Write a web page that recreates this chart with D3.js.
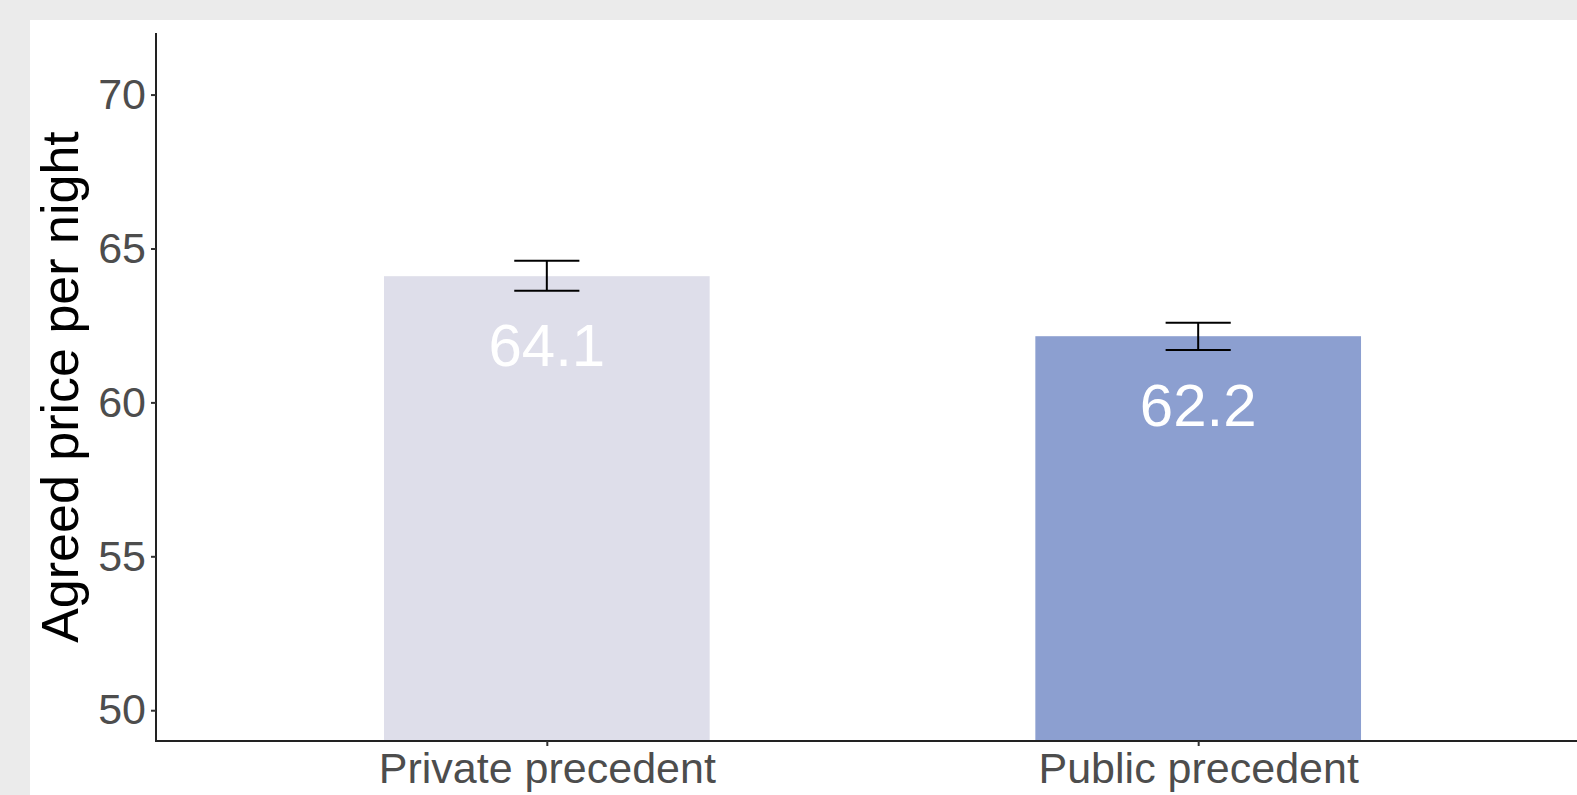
<!DOCTYPE html>
<html>
<head>
<meta charset="utf-8">
<script src="https://cdn.jsdelivr.net/npm/d3@7"></script>
<style>
    body { margin: 0; background: #ebebeb; }
    svg { display: block; }
    text { font-family: "Liberation Sans", Arial, sans-serif; }
</style>
</head>
<body>
<svg id="main_svg" width="1577" height="795"></svg>
<script>
// data
var categories = ["Private precedent", "Public precedent"];
var means = [64.1, 62.15];
var lower = [63.63, 61.70];
var upper = [64.60, 62.59];
var valueLabels = ["64.1", "62.2"];
var barColors = ["#dedeea", "#8c9fd0"];
var yTicks = [50, 55, 60, 65, 70];

var svg = d3.select("#main_svg");

// grey outer frame + white plot area
svg.append("rect")
    .attr("width", 1577).attr("height", 795)
    .attr("fill", "#ebebeb");
svg.append("rect")
    .attr("x", 30).attr("y", 20)
    .attr("width", 1547).attr("height", 775)
    .attr("fill", "#ffffff");

var y = d3.scaleLinear()
    .domain([49, 72])
    .range([741, 33]);

// discrete axis, like ggplot's expansion of 0.6
var x = d3.scalePoint()
    .domain(categories)
    .range([156, 1589])
    .padding(0.6);

var barWidth = x.step() * 0.5;
var capWidth = x.step() * 0.1;

var rows = categories.map(function(c, i) {
    return {cat: c, mean: means[i], lo: lower[i], hi: upper[i], label: valueLabels[i], color: barColors[i]};
});

// bars
svg.append("g")
    .selectAll("rect")
    .data(rows)
    .enter()
    .append("rect")
    .attr("x", function(d) { return x(d.cat) - barWidth / 2; })
    .attr("y", function(d) { return y(d.mean); })
    .attr("width", barWidth)
    .attr("height", function(d) { return y(49) - y(d.mean); })
    .attr("fill", function(d) { return d.color; });

// error bars
var err = svg.append("g")
    .attr("stroke", "#000")
    .attr("stroke-width", 2)
    .attr("fill", "none");

err.selectAll("line.v")
    .data(rows)
    .enter()
    .append("line")
    .attr("class", "v")
    .attr("x1", function(d) { return x(d.cat); })
    .attr("x2", function(d) { return x(d.cat); })
    .attr("y1", function(d) { return y(d.lo); })
    .attr("y2", function(d) { return y(d.hi); });

err.selectAll("line.top")
    .data(rows)
    .enter()
    .append("line")
    .attr("class", "top")
    .attr("x1", function(d) { return x(d.cat) - capWidth / 2; })
    .attr("x2", function(d) { return x(d.cat) + capWidth / 2; })
    .attr("y1", function(d) { return y(d.hi); })
    .attr("y2", function(d) { return y(d.hi); });

err.selectAll("line.bot")
    .data(rows)
    .enter()
    .append("line")
    .attr("class", "bot")
    .attr("x1", function(d) { return x(d.cat) - capWidth / 2; })
    .attr("x2", function(d) { return x(d.cat) + capWidth / 2; })
    .attr("y1", function(d) { return y(d.lo); })
    .attr("y2", function(d) { return y(d.lo); });

// value labels inside bars
svg.append("g")
    .selectAll("text")
    .data(rows)
    .enter()
    .append("text")
    .attr("x", function(d) { return x(d.cat); })
    .attr("y", function(d) { return y(d.mean); })
    .attr("dy", 89.5)
    .attr("text-anchor", "middle")
    .attr("font-size", 60)
    .attr("fill", "#ffffff")
    .text(function(d) { return d.label; });

// y axis
var yAxis = svg.append("g")
    .attr("transform", "translate(156,0)")
    .call(d3.axisLeft(y).tickValues(yTicks).tickSize(5).tickPadding(5));
yAxis.select(".domain")
    .attr("d", "M0," + y(72) + "V" + y(49))
    .attr("stroke", "#222")
    .attr("stroke-width", 2);
yAxis.selectAll(".tick line").attr("stroke", "#333").attr("stroke-width", 2);
yAxis.selectAll(".tick text")
    .attr("font-size", 43)
    .attr("font-family", "Liberation Sans, Arial, sans-serif")
    .attr("fill", "#4d4d4d");

// x axis
var xAxis = svg.append("g")
    .attr("transform", "translate(0," + y(49) + ")")
    .call(d3.axisBottom(x).tickSize(5).tickPadding(6));
xAxis.select(".domain")
    .attr("d", "M155,0H1577")
    .attr("stroke", "#222")
    .attr("stroke-width", 2);
xAxis.selectAll(".tick line").attr("stroke", "#333").attr("stroke-width", 2);
xAxis.selectAll(".tick text")
    .attr("font-size", 43)
    .attr("font-family", "Liberation Sans, Arial, sans-serif")
    .attr("fill", "#4d4d4d");

// y axis title
svg.append("text")
    .attr("transform", "translate(78," + ((y(72) + y(49)) / 2) + ") rotate(-90)")
    .attr("text-anchor", "middle")
    .attr("font-size", 52)
    .attr("fill", "#000")
    .text("Agreed price per night");
</script>
</body>
</html>
